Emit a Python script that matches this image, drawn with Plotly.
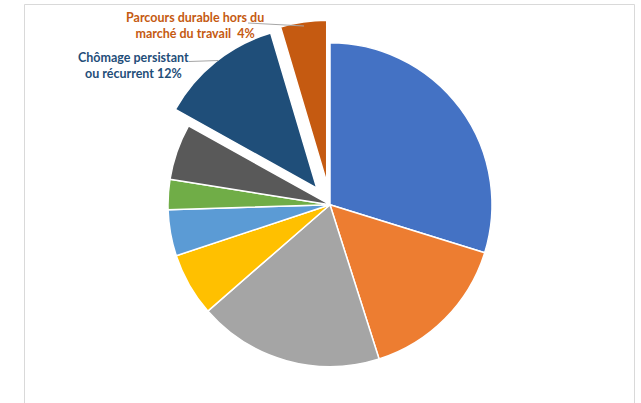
import plotly.graph_objects as go

# ---- data (clockwise from 12 o'clock) ----
categories = [
    "Catégorie 1",
    "Catégorie 2",
    "Catégorie 3",
    "Catégorie 4",
    "Catégorie 5",
    "Catégorie 6",
    "Catégorie 7",
    "Chômage persistant ou récurrent",
    "Parcours durable hors du marché du travail",
]
values = [29.8, 15.3, 18.5, 6.3, 4.6, 3.0, 5.6, 12.3, 4.6]
shown_pct = [None, None, None, None, None, None, None, 12, 4]
colors = ["#4472C4", "#ED7D31", "#A5A5A5", "#FFC000", "#5B9BD5",
          "#70AD47", "#595959", "#1F4E79", "#C55A11"]
pulls = [0, 0, 0, 0, 0, 0, 0, 0.13, 0.14]

W, H = 641, 403


def px(x):
    return x / W


def py(y):
    return 1 - y / H


# pie geometry (pixels)
cx, cy, r = 330, 204.7, 162
ravail = r * (1 + max(pulls))

fig = go.Figure(go.Pie(
    labels=categories,
    values=values,
    sort=False,
    direction="clockwise",
    rotation=0,
    pull=pulls,
    marker=dict(colors=colors, line=dict(color="white", width=1.5)),
    textinfo="none",
    hoverinfo="label+percent",
    showlegend=False,
    domain=dict(x=[px(cx - ravail), px(cx + ravail)],
                y=[py(cy + ravail), py(cy - ravail)]),
))

font_family = "Lato"
annotations = [
    dict(text="Parcours durable hors du<br>marché du travail  %d%%" % shown_pct[8],
         x=px(195), y=py(25), font=dict(color="#C55A11")),
    dict(text="Chômage persistant<br>ou récurrent %d%%" % shown_pct[7],
         x=px(133), y=py(65.5), font=dict(color="#1F4E79")),
]
for a in annotations:
    a.update(xref="paper", yref="paper", showarrow=False, align="center",
             xanchor="center", yanchor="middle")
    a["font"].update(family=font_family, size=12.5, weight="bold")

shapes = [
    # leader lines
    dict(type="line", xref="paper", yref="paper",
         x0=px(248), y0=py(23), x1=px(304), y1=py(26),
         line=dict(color="#A6A6A6", width=1)),
    dict(type="line", xref="paper", yref="paper",
         x0=px(189), y0=py(61.5), x1=px(218.5), y1=py(60.5),
         line=dict(color="#A6A6A6", width=1)),
    # chart area border
    dict(type="rect", xref="paper", yref="paper",
         x0=px(24.5), y0=py(410), x1=px(634.5), y1=py(4.5),
         line=dict(color="#D9D9D9", width=1), fillcolor="rgba(0,0,0,0)"),
]

fig.update_layout(
    width=W, height=H,
    margin=dict(l=0, r=0, t=0, b=0),
    paper_bgcolor="white",
    plot_bgcolor="white",
    annotations=annotations,
    shapes=shapes,
)

fig.write_html(
    "out.html",
    config={"displayModeBar": False},
    post_script="document.body.style.margin='0px';document.body.style.overflow='hidden';",
)
